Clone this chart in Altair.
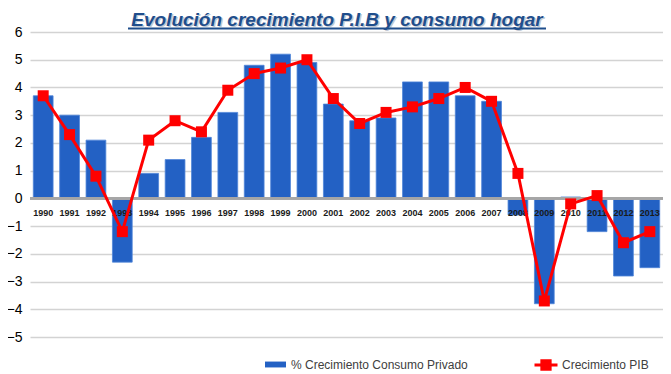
import altair as alt
import pandas as pd

years = [str(y) for y in range(1990, 2014)]
consumo = [3.7, 3.0, 2.1, -2.3, 0.9, 1.4, 2.2, 3.1, 4.8, 5.2, 4.9, 3.4,
           2.8, 2.9, 4.2, 4.2, 3.7, 3.5, -0.6, -3.8, 0.05, -1.2, -2.8, -2.5]
pib = [3.7, 2.3, 0.8, -1.2, 2.1, 2.8, 2.4, 3.9, 4.5, 4.7, 5.0, 3.6,
       2.7, 3.1, 3.3, 3.6, 4.0, 3.5, 0.9, -3.7, -0.2, 0.1, -1.6, -1.2]
serie_consumo = "% Crecimiento Consumo Privado"
serie_pib = "Crecimiento PIB"
title_text = "Evolución crecimiento P.I.B y consumo hogar"
y_ticks = list(range(-5, 7))

df = pd.DataFrame({"year": years, "consumo": consumo, "pib": pib,
                   "s1": serie_consumo, "s2": serie_pib})
title_df = pd.DataFrame({"t": [title_text]})

FONT = "Liberation Sans"
BLUE = "#2361C4"
RED = "#FF0000"
TITLE_COLOR = "#1F4E8C"

x = alt.X("year:N", sort=years,
          scale=alt.Scale(paddingInner=0.25, paddingOuter=0.125), axis=None)
yscale = alt.Scale(domain=[-5, 6], nice=False, zero=False)
y_axis = alt.Axis(values=y_ticks, tickCount=12, grid=True, gridColor="#d3d3d3",
                  gridWidth=1.5, domain=False, ticks=False,
                  labelOverlap=False, labelFont=FONT,
                  labelFontSize=14, labelColor="black",
                  labelPadding=8, title=None)

base = alt.Chart(df)

bars = base.mark_bar(stroke="#4F85D8", strokeWidth=0.8).encode(
    x=x,
    y=alt.Y("consumo:Q", scale=yscale, axis=y_axis),
    color=alt.Color("s1:N", scale=alt.Scale(domain=[serie_consumo], range=[BLUE]),
                    legend=alt.Legend(orient="none", legendX=235, legendY=322,
                                      title=None,
                                      symbolType="M-1,-0.28H1V0.28H-1Z",
                                      symbolSize=441, symbolStrokeWidth=0,
                                      labelFont=FONT, labelFontSize=12,
                                      labelLimit=0, labelOffset=5,
                                      labelColor="#404040")),
)

zero = alt.Chart(df).mark_rule(color="#a6a6a6", strokeWidth=2).encode(
    y=alt.YDatum(0, scale=yscale, axis=y_axis))

labels = base.mark_text(font=FONT, fontSize=9, fontWeight="bold",
                        color="#1a1a1a", dy=15).encode(
    x=x, y=alt.YDatum(0, scale=yscale, axis=y_axis), text="year:N")

line = base.mark_line(strokeWidth=3).encode(
    x=x, y=alt.Y("pib:Q", scale=yscale, axis=y_axis),
    color=alt.Color("s2:N", scale=alt.Scale(domain=[serie_pib], range=[RED]),
                    legend=alt.Legend(orient="none", legendX=503, legendY=320,
                                      title=None,
                                      symbolType="M-1,0H1M-0.36,-0.36H0.36V0.36H-0.36Z",
                                      symbolSize=529, symbolStrokeWidth=3,
                                      symbolFillColor=RED,
                                      labelFont=FONT, labelFontSize=12,
                                      labelLimit=0, labelOffset=3,
                                      labelColor="#404040")),
)
points = base.mark_point(shape="square", filled=True, size=121, opacity=1).encode(
    x=x, y=alt.Y("pib:Q", scale=yscale, axis=y_axis),
    color=alt.Color("s2:N", scale=alt.Scale(domain=[serie_pib], range=[RED]),
                    legend=None),
)

title_shadow = alt.Chart(title_df).mark_text(
    font=FONT, fontSize=19, fontStyle="italic", fontWeight="bold",
    color="#9aa6b8", opacity=0.6, align="center", baseline="alphabetic").encode(
    text="t:N", x=alt.value(308.5), y=alt.value(-5))
title = alt.Chart(title_df).mark_text(
    font=FONT, fontSize=19, fontStyle="italic", fontWeight="bold",
    color=TITLE_COLOR, align="center", baseline="alphabetic").encode(
    text="t:N", x=alt.value(307), y=alt.value(-6.5))
underline = alt.Chart(title_df).mark_rule(color=TITLE_COLOR, strokeWidth=2).encode(
    x=alt.value(98), x2=alt.value(516), y=alt.value(-3.5))

chart = alt.layer(bars, zero, labels, line + points, title_shadow, title,
                  underline).resolve_scale(color="independent").properties(
    width=633, height=305,
    autosize=alt.AutoSizeParams(type="none"),
    padding={"left": 22, "top": 24, "right": 0, "bottom": 35},
).configure_view(stroke=None)

chart.save("out.html", embed_options={"renderer": "svg", "actions": False})
